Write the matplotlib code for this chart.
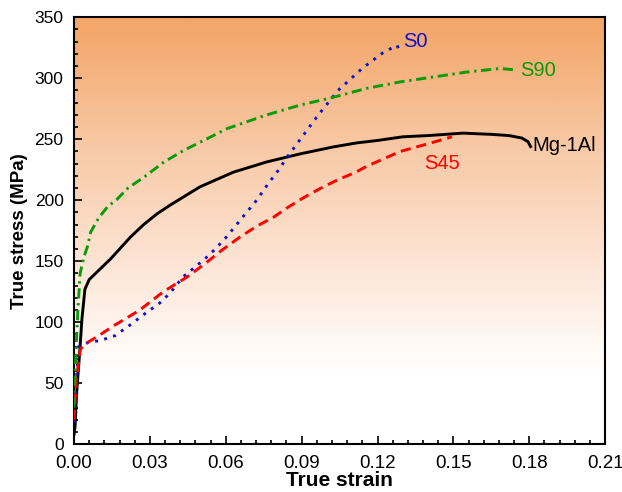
import numpy as np
import matplotlib
matplotlib.use('Agg')
import matplotlib.pyplot as plt
from matplotlib.colors import LinearSegmentedColormap
from matplotlib.ticker import MultipleLocator

plt.rcParams['font.family'] = ['Liberation Sans', 'DejaVu Sans']

# Mg-1Al (black, solid)
mg_x = [0.0, 0.0004, 0.0011, 0.0024, 0.0031, 0.0043, 0.006, 0.009, 0.0145, 0.018,
        0.0224, 0.0275, 0.0329, 0.038, 0.0435, 0.0498, 0.063, 0.0762, 0.0894,
        0.1025, 0.1118, 0.12, 0.13, 0.14, 0.1538, 0.165, 0.172, 0.177, 0.1795, 0.1805]
mg_y = [8, 14, 44, 80, 102, 127, 135, 141, 152, 160,
        170, 180, 189, 196, 203, 211, 223, 231.4, 238,
        243.7, 247, 249, 252, 253, 255, 254, 253, 251, 248, 244]

# S0 (blue, dotted)
s0_x = [0.0, 0.0005, 0.001, 0.0018, 0.0057, 0.0103, 0.0162, 0.022, 0.028, 0.034, 0.038,
        0.043, 0.0518, 0.0558, 0.0597, 0.063, 0.0676, 0.0722, 0.0768, 0.0808, 0.0848,
        0.0887, 0.0966, 0.1044, 0.1139, 0.1222, 0.1277, 0.129]
s0_y = [18, 35, 55, 80, 83.5, 85, 89, 97.5, 107, 116, 124,
        137, 152, 160, 168.6, 176.8, 188.5, 200, 213.7, 224.6, 236.9,
        247.8, 270, 290, 308, 321, 327, 321]

# S45 (red, dashed)
s45_x = [0.0, 0.0004, 0.001, 0.0025, 0.005, 0.009, 0.016, 0.026, 0.0353, 0.0446, 0.0518,
         0.0584, 0.0657, 0.0722, 0.0788, 0.0848, 0.0907, 0.0973, 0.1039, 0.1111,
         0.1159, 0.129, 0.142, 0.1494]
s45_y = [20, 34, 55, 78, 83, 88, 97.5, 110, 125, 137, 148,
         159, 170, 178.7, 186, 194.5, 202, 209.6, 216.4, 222.7,
         228, 240, 247.5, 252]

# S90 (green, dash-dot)
s90_x = [0.0, 0.0004, 0.0012, 0.0016, 0.0024, 0.004, 0.0053, 0.0066, 0.0099, 0.0132,
         0.0171, 0.0211, 0.0277, 0.0356, 0.0435, 0.0527, 0.0606, 0.0763, 0.0894,
         0.101, 0.1159, 0.129, 0.142, 0.155, 0.1685, 0.1735]
s90_y = [30, 58, 96, 112, 140, 154, 162, 174, 186, 194.5,
         201, 209.6, 219, 231.4, 241, 250.5, 258.8, 270, 278,
         283.6, 291.8, 297, 301, 305, 308, 307]

fig, ax = plt.subplots(figsize=(6.22, 4.92), dpi=100)
fig.subplots_adjust(left=0.119, right=0.973, top=0.965, bottom=0.097)

# orange-to-white background gradient
cmap = LinearSegmentedColormap.from_list('bg', ['#ffffff', '#fde3d2', '#f8c8a4', '#f3a76a'])
yy = np.linspace(0, 350, 400)
grad = np.clip((yy - 60) / (340 - 60), 0, 1)[:, None]
ax.imshow(grad, extent=[0, 0.21, 0, 350], origin='lower', aspect='auto',
          cmap=cmap, vmin=0, vmax=1, zorder=0, interpolation='bilinear')

ax.plot(mg_x, mg_y, color='black', lw=2.1, zorder=3)
ax.plot(s0_x, s0_y, color='#1010d0', lw=2.1, ls=(0, (1, 2.2)), zorder=3)
ax.plot(s45_x, s45_y, color='#ff0000', lw=2.1, ls=(0, (3.5, 2)), zorder=3)
ax.plot(s90_x, s90_y, color='#0a9a0a', lw=2.1, ls=(0, (3.5, 1.6, 0.8, 1.6)), zorder=3)

ax.text(0.1303, 330, 'S0', color='#1010d0', fontsize=14.5, va='center')
ax.text(0.1762, 306.5, 'S90', color='#0a9a0a', fontsize=14.5, va='center')
ax.text(0.1811, 245, 'Mg-1Al', color='black', fontsize=14.5, va='center')
ax.text(0.1384, 230, 'S45', color='#ff0000', fontsize=14.5, va='center')

ax.set_xlim(0, 0.21)
ax.set_ylim(0, 350)
ax.xaxis.set_major_locator(MultipleLocator(0.03))
ax.xaxis.set_minor_locator(MultipleLocator(0.006))
ax.yaxis.set_major_locator(MultipleLocator(50))
ax.yaxis.set_minor_locator(MultipleLocator(10))
ax.xaxis.set_major_formatter(plt.FuncFormatter(lambda v, p: f'{v:.2f}'))

ax.tick_params(which='both', direction='in', top=False, right=False, width=1.2)
ax.tick_params(axis='x', which='major', labelsize=13.5, pad=8)
ax.tick_params(axis='y', which='major', labelsize=12.5, pad=7.5)
ax.tick_params(which='major', length=6)
ax.tick_params(which='minor', length=3)
for s in ax.spines.values():
    s.set_linewidth(1.5)

ax.set_xlabel('True strain', fontsize=15, fontweight='bold', labelpad=-1)
ax.set_ylabel('True stress (MPa)', fontsize=13.5, fontweight='bold', labelpad=5)

fig.savefig('out.png', dpi=100)
